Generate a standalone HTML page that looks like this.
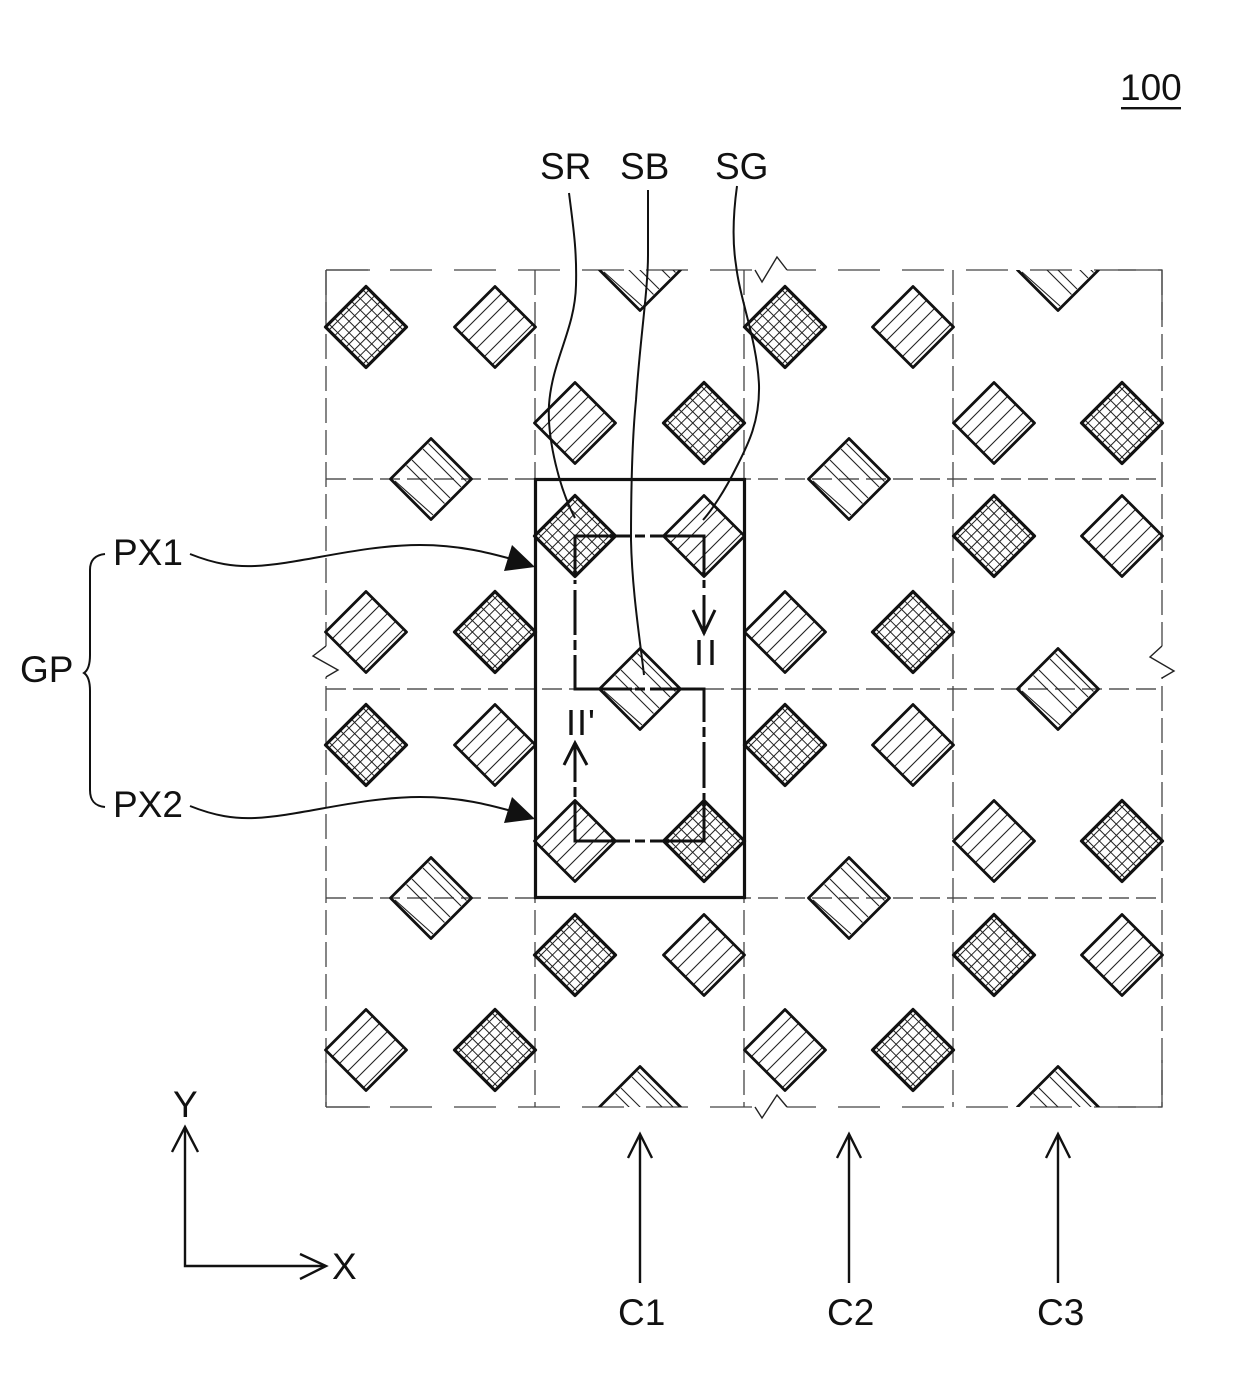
<!DOCTYPE html>
<html>
<head>
<meta charset="utf-8">
<title>Diagram 100</title>
<style>
html,body{margin:0;padding:0;background:#fff;width:1240px;height:1373px;overflow:hidden}
svg{display:block}
text{font-family:"Liberation Sans",sans-serif;font-size:37px;fill:#111}
</style>
</head>
<body>
<svg width="1240" height="1373" viewBox="0 0 1240 1373" xmlns="http://www.w3.org/2000/svg">
<defs>
<g id="h">
<path d="M-33,6L6,-33M-26,13L13,-26M-18,21L21,-18M-10,29L29,-10M-2,37L37,-2" fill="none" stroke="#222" stroke-width="1.1"/>
<path d="M0,-40.5L40.5,0L0,40.5L-40.5,0Z" fill="none" stroke="#111" stroke-width="2.8" stroke-linejoin="round"/>
</g>
<g id="b">
<path d="M-2.5,-35.5L35.5,2.5M-8,-30L30,8M-19,-19L19,19M-24.5,-13.5L13.5,24.5M-36,2L2,36" fill="none" stroke="#222" stroke-width="1.1"/>
<path d="M0,-40.5L40.5,0L0,40.5L-40.5,0Z" fill="none" stroke="#111" stroke-width="2.8" stroke-linejoin="round"/>
</g>
<g id="m">
<path d="M-37,3L3,-37M-31.3,8.7L8.7,-31.3M-25.6,14.4L14.4,-25.6M-20,20L20,-20M-14.4,25.6L25.6,-14.4M-8.7,31.3L31.3,-8.7M-3,37L37,-3" fill="none" stroke="#222" stroke-width="1"/>
<path d="M-3,-37L37,3M-8.7,-31.3L31.3,8.7M-14.4,-25.6L25.6,14.4M-20,-20L20,20M-25.6,-14.4L14.4,25.6M-31.3,-8.7L8.7,31.3M-37,-3L3,37" fill="none" stroke="#222" stroke-width="1"/>
<path d="M0,-40.5L40.5,0L0,40.5L-40.5,0Z" fill="none" stroke="#111" stroke-width="3.2" stroke-linejoin="round"/>
</g>
<clipPath id="ct"><rect x="300" y="270" width="900" height="60"/></clipPath>
<clipPath id="cb"><rect x="300" y="1040" width="900" height="67"/></clipPath>
</defs>

<!-- grid -->
<g fill="none" stroke="#444" stroke-width="1.3">
<path d="M326,270H1162" stroke-dasharray="42 22"/>
<path d="M326,1107H1162" stroke-dasharray="42 22"/>
<g stroke="#555" stroke-width="1.5" stroke-dasharray="20 7">
<path d="M326,479H1162"/>
<path d="M326,689H1162"/>
<path d="M326,898H1162"/>
</g>
<g stroke-dasharray="25 7">
<path d="M535,270V1107"/>
<path d="M744,270V1107"/>
<path d="M953,270V1107"/>
<path d="M326,270V1107"/>
<path d="M1162,270V1107"/>
</g>
<path d="M326,270H370M1118,270H1162V320M326,270V320M326,1107H370M1118,1107H1162V1060M326,1107V1060"/>
</g>

<!-- break marks -->
<path d="M326,646V677M1162,646V677" stroke="#fff" stroke-width="4"/>
<path d="M755,270H787M755,1107H787" stroke="#fff" stroke-width="4"/>
<g fill="none" stroke="#222" stroke-width="1.4">
<path d="M326,646L313,656L338,670L326,677"/>
<path d="M1162,646L1150,657L1174,671L1162,678"/>
<path d="M755,270L762,282L777,257L787,270"/>
<path d="M755,1107L762,1118L777,1095L787,1107"/>
</g>

<!-- diamonds column 0 -->
<use href="#m" x="366" y="327"/><use href="#h" x="495" y="327"/>
<use href="#b" x="431" y="479"/>
<use href="#h" x="366" y="632"/><use href="#m" x="495" y="632"/>
<use href="#m" x="366" y="745"/><use href="#h" x="495" y="745"/>
<use href="#b" x="431" y="898"/>
<use href="#h" x="366" y="1050"/><use href="#m" x="495" y="1050"/>
<!-- column 1 -->
<g clip-path="url(#ct)"><use href="#b" x="640" y="270"/><use href="#b" x="1058" y="270"/></g>
<use href="#h" x="575" y="423"/><use href="#m" x="704" y="423"/>
<use href="#m" x="575" y="536"/><use href="#h" x="704" y="536"/>
<use href="#b" x="640" y="689"/>
<use href="#h" x="575" y="841"/><use href="#m" x="704" y="841"/>
<use href="#m" x="575" y="955"/><use href="#h" x="704" y="955"/>
<g clip-path="url(#cb)"><use href="#b" x="640" y="1107"/><use href="#b" x="1058" y="1107"/></g>
<!-- column 2 -->
<use href="#m" x="785" y="327"/><use href="#h" x="913" y="327"/>
<use href="#b" x="849" y="479"/>
<use href="#h" x="785" y="632"/><use href="#m" x="913" y="632"/>
<use href="#m" x="785" y="745"/><use href="#h" x="913" y="745"/>
<use href="#b" x="849" y="898"/>
<use href="#h" x="785" y="1050"/><use href="#m" x="913" y="1050"/>
<!-- column 3 -->
<use href="#h" x="994" y="423"/><use href="#m" x="1122" y="423"/>
<use href="#m" x="994" y="536"/><use href="#h" x="1122" y="536"/>
<use href="#b" x="1058" y="689"/>
<use href="#h" x="994" y="841"/><use href="#m" x="1122" y="841"/>
<use href="#m" x="994" y="955"/><use href="#h" x="1122" y="955"/>

<!-- thick group rectangle -->
<rect x="535.5" y="479.5" width="209" height="418" fill="none" stroke="#111" stroke-width="3.2"/>

<!-- section path -->
<g fill="none" stroke="#111" stroke-width="3">
<path d="M575,534.5V577M575,580V584M575,590V635M575,640V650M575,655V690.5"/>
<path d="M575,536H630M635,536H645M650,536H705.5"/>
<path d="M704,536V577M704,580V588M704,595V634"/>
<path d="M693,610L704,633L715,610"/>
<path d="M575,689H632M635,689H645M650,689H705.5"/>
<path d="M704,689V722M704,727V737M704,742V788M704,793V842.5"/>
<path d="M575,841H630M635,841H645M650,841H704"/>
<path d="M575,842.5V800M575,797V787M575,782V743"/>
<path d="M564,765L575,743L587,765"/>
</g>

<!-- leaders -->
<g fill="none" stroke="#111" stroke-width="2">
<path d="M569,193C573,225 577,250 576,285C575,330 552,360 549,405C547,440 560,490 575,518"/>
<path d="M648,190V255C648,290 640,340 636,400C632,440 631,500 631,540C632,590 640,640 644,675"/>
<path d="M737,186C733,215 732,240 736,265C740,300 757,340 759,385C760,425 745,450 735,470C725,490 712,510 703,520"/>
<path d="M190,554C215,564 235,567 255,566C300,564 360,545 420,545C460,545 490,553 515,560"/>
<path d="M190,806C215,816 235,819 255,818C300,816 360,797 420,797C460,797 490,805 515,812"/>
<path d="M105,554C95,555 90,560 90,570V655C90,666 87,671 84,673C87,675 90,680 90,691V790C90,801 95,806 105,807"/>
</g>
<path d="M512,545L535,567L504,571Z" fill="#111"/>
<path d="M512,797L535,819L504,823Z" fill="#111"/>

<!-- arrows -->
<g fill="none" stroke="#111" stroke-width="2.4">
<path d="M640,1283V1134M628,1158L640,1134L652,1158"/>
<path d="M849,1283V1134M837,1158L849,1134L861,1158"/>
<path d="M1058,1283V1134M1046,1158L1058,1134L1070,1158"/>
<path d="M185,1127V1266H325"/>
<path d="M172,1152L185,1127L198,1152"/>
<path d="M300,1254L326,1266L300,1279"/>
</g>

<!-- labels -->
<text x="1120" y="100">100</text>
<rect x="1121" y="107" width="60" height="2.4" fill="#111"/>
<text x="540" y="179">SR</text>
<text x="620" y="179">SB</text>
<text x="715" y="179">SG</text>
<text x="113" y="565">PX1</text>
<text x="113" y="817">PX2</text>
<text x="20" y="682">GP</text>
<text x="618" y="1325">C1</text>
<text x="827" y="1325">C2</text>
<text x="1037" y="1325">C3</text>
<text x="173" y="1117">Y</text>
<text x="332" y="1279">X</text>
<text x="694" y="665" style="font-size:36px" letter-spacing="3">II</text>
<text x="566" y="735" style="font-size:36px" letter-spacing="1">II'</text>
</svg>
</body>
</html>
